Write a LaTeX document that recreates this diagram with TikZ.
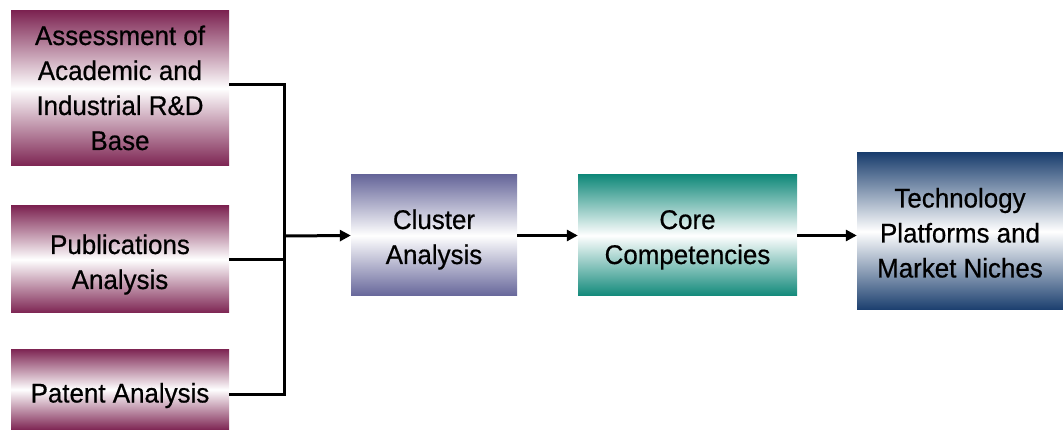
\documentclass[tikz,border=0pt]{standalone}
\usepackage{fontspec}
\setmainfont{Liberation Sans}[FakeStretch=0.96,FakeBold=0.6]
\usetikzlibrary{arrows.meta}
\definecolor{maroon}{HTML}{7D2452}
\definecolor{lav}{HTML}{66669A}
\definecolor{teal}{HTML}{11897A}
\definecolor{navy}{HTML}{1A3E6E}
\newcommand\lbl[2][4pt]{\raisebox{-#1}[\height][\depth]{\begin{tabular}{@{}c@{}}#2\end{tabular}}}
\tikzset{
  box/.style={draw=none, inner sep=0pt, text=black,
    font=\fontsize{27}{35}\selectfont},
  mbox/.style={box, top color=maroon, bottom color=maroon, middle color=white},
  lbox/.style={box, top color=lav, bottom color=lav, middle color=white},
  tbox/.style={box, top color=teal, bottom color=teal, middle color=white},
  nbox/.style={box, top color=navy, bottom color=navy, middle color=white},
  conn/.style={line width=3pt},
  arr/.style={conn, -{Triangle[length=11pt,width=11pt]}}
}
\begin{document}
\begin{tikzpicture}[x=1pt,y=-1pt]
\useasboundingbox (0,0) rectangle (1063,430);
\node[mbox, minimum width=218pt, minimum height=155pt] (b1) at (120,88.5) {\lbl[2pt]{Assessment of\\Academic and\\Industrial R\&D\\Base}};
\node[mbox, minimum width=218pt, minimum height=107pt] (b2) at (120,259.5) {\lbl[5pt]{Publications\\Analysis}};
\node[mbox, minimum width=218pt, minimum height=81pt] (b3) at (120,389.5) {\lbl[6pt]{Patent Analysis}};
\node[lbox, minimum width=166pt, minimum height=121pt] (cl) at (434,235.5) {\lbl{Cluster\\Analysis}};
\node[tbox, minimum width=219pt, minimum height=121pt] (co) at (687.5,235.5) {\lbl{Core\\Competencies}};
\node[nbox, minimum width=206pt, minimum height=157pt] (te) at (960,231.5) {\lbl{Technology\\Platforms and\\Market Niches}};
\coordinate (jt) at (284,85);
\coordinate (jb) at (284,394);
\coordinate (j) at (284,236);
\draw[conn] ([yshift=3.5pt]b1.east) -- (jt) -- (jb) -- ([yshift=-4.5pt]b3.east);
\draw[conn] (b2.east) -- (b2.east -| j);
\draw[arr] (j) -- (cl.west);
\draw[arr] (cl.east) -- (co.west);
\draw[arr] (co.east) -- (te.west |- co.east);
\end{tikzpicture}
\end{document}
